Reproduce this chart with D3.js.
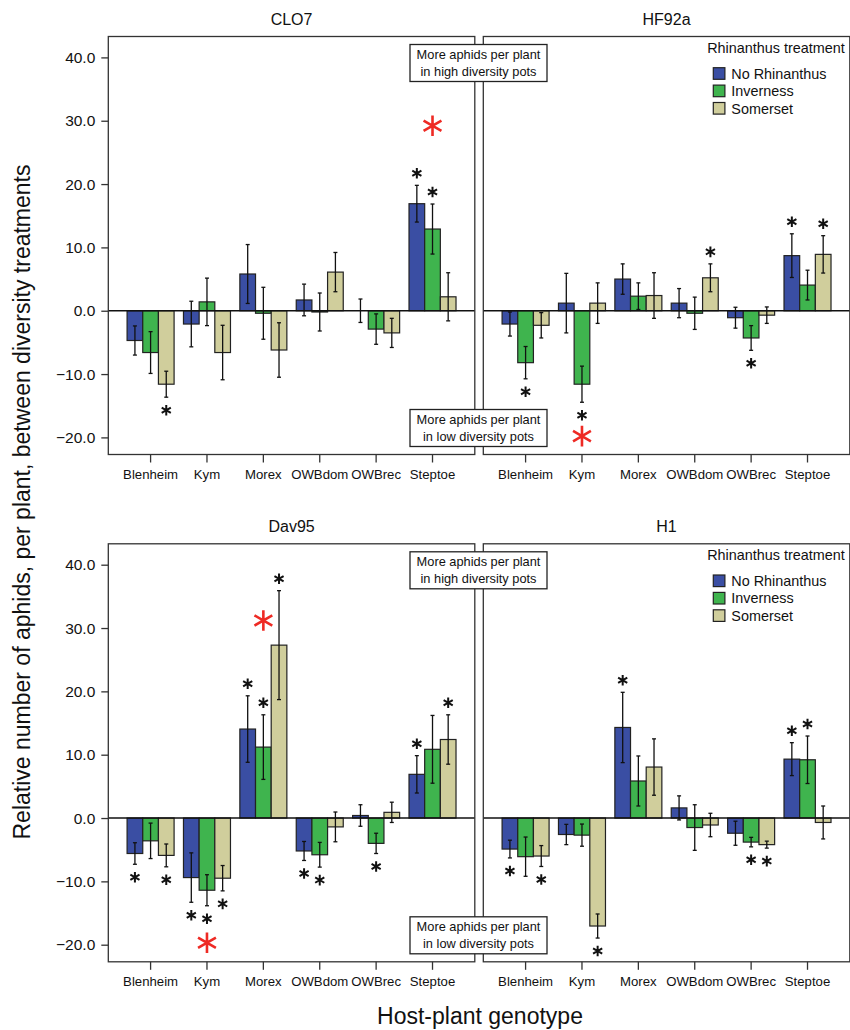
<!DOCTYPE html>
<html>
<head>
  <meta charset="utf-8">
  <title>Relative aphid numbers by host-plant genotype</title>
  <script src="https://d3js.org/d3.v7.min.js"></script>
  <style>
    body { margin: 0; background: #fff; }
    text { font-family: "Liberation Sans", Arial, Helvetica, sans-serif; fill: #111; }
  </style>
</head>
<body>
  <div id="chart"></div>
  <script>
// Host-plant genotypes (x categories) and Rhinanthus treatments (series)
const categories = ["Blenheim", "Kym", "Morex", "OWBdom", "OWBrec", "Steptoe"];
const series = ["No Rhinanthus", "Inverness", "Somerset"];
const seriesColors = ["#3a4ea3", "#3fb44e", "#d0ce9c"];
const yTicks = [-20, -10, 0, 10, 20, 30, 40];

// means: one row per series (No Rhinanthus, Inverness, Somerset)
const clo7Mean = [
  [-4.7, -2.1, 5.8, 1.7, 0.0, 16.9],
  [-6.6, 1.4, -0.4, -0.2, -2.9, 12.9],
  [-11.6, -6.6, -6.2, 6.1, -3.5, 2.2]
];
const clo7Err = [
  [2.3, 3.6, 4.65, 2.5, 1.85, 2.9],
  [3.3, 3.75, 4.1, 3.0, 2.4, 3.95],
  [2.05, 4.3, 4.3, 3.1, 2.3, 3.8]
];
const clo7Stars = [[0, 2], [5, 0], [5, 1]];

const hf92aMean = [
  [-2.1, 1.2, 5.0, 1.2, -1.1, 8.7],
  [-8.2, -11.6, 2.3, -0.4, -4.3, 4.05],
  [-2.3, 1.2, 2.4, 5.2, -0.7, 8.9]
];
const hf92aErr = [
  [1.9, 4.7, 2.4, 2.3, 1.65, 3.45],
  [2.55, 2.85, 2.1, 2.55, 1.95, 2.35],
  [2.0, 3.2, 3.6, 2.2, 1.3, 2.95]
];
const hf92aStars = [[0, 1], [1, 1], [3, 2], [4, 1], [5, 0], [5, 2]];

const dav95Mean = [
  [-5.6, -9.4, 14.05, -5.2, 0.4, 6.9],
  [-3.6, -11.4, 11.2, -5.8, -4.0, 10.85],
  [-5.9, -9.5, 27.3, -1.4, 0.9, 12.4]
];
const dav95Err = [
  [1.7, 3.9, 5.25, 1.5, 1.7, 2.95],
  [2.8, 2.45, 5.1, 1.95, 1.6, 5.35],
  [1.8, 2.0, 8.6, 2.35, 1.6, 3.9]
];
const dav95Stars = [[0, 0], [0, 2], [1, 0], [1, 1], [1, 2], [2, 0], [2, 1], [2, 2], [3, 0], [3, 1], [4, 1], [5, 0], [5, 2]];

const h1Mean = [
  [-4.9, -2.6, 14.3, 1.6, -2.4, 9.3],
  [-6.1, -2.7, 5.85, -1.5, -3.8, 9.2],
  [-6.0, -17.05, 8.05, -1.1, -4.2, -0.7]
];
const h1Err = [
  [1.4, 1.6, 5.55, 1.9, 1.9, 2.6],
  [3.1, 1.75, 3.95, 3.6, 0.75, 3.75],
  [1.65, 1.9, 4.45, 1.85, 0.55, 2.6]
];
const h1Stars = [[0, 0], [0, 2], [1, 2], [2, 0], [4, 1], [4, 2], [5, 0], [5, 1]];

// big red asterisks: [category, y value]
const clo7Red = [["Steptoe", 29.2]];
const hf92aRed = [["Kym", -19.8]];
const dav95Red = [["Morex", 31.2], ["Kym", -19.7]];
const h1Red = [];

const panels = [
  { name: "CLO7", mean: clo7Mean, err: clo7Err, stars: clo7Stars, red: clo7Red, col: 0, row: 0 },
  { name: "HF92a", mean: hf92aMean, err: hf92aErr, stars: hf92aStars, red: hf92aRed, col: 1, row: 0 },
  { name: "Dav95", mean: dav95Mean, err: dav95Err, stars: dav95Stars, red: dav95Red, col: 0, row: 1 },
  { name: "H1", mean: h1Mean, err: h1Err, stars: h1Stars, red: h1Red, col: 1, row: 1 }
];

// layout
const colX = [108.3, 483.3];
const rowY = [36.5, 543.8];
const panelW = 366.5;
const panelH = 418;

const svg = d3.select("#chart")
  .append("svg")
  .attr("width", 850)
  .attr("height", 1030);

const x = d3.scaleBand()
  .domain(categories)
  .range([0, panelW])
  .paddingInner(0)
  .paddingOuter(0.25);

const xSub = d3.scaleBand()
  .domain(d3.range(series.length))
  .range([-23.5, 23.5]);

const y = d3.scaleLinear()
  .domain([-22.7, 43.3])
  .range([panelH, 0]);

const starPath = d3.symbol(d3.symbolAsterisk, 78)();
const redStarPath = d3.symbol(d3.symbolAsterisk, 300)();

panels.forEach(p => {
  const g = svg.append("g")
    .attr("transform", `translate(${colX[p.col]},${rowY[p.row]})`);

  // flatten to bar records
  const bars = [];
  p.mean.forEach((vals, s) => {
    vals.forEach((v, c) => {
      bars.push({ cat: categories[c], s: s, value: v, err: p.err[s][c] });
    });
  });

  g.selectAll(".bar")
    .data(bars)
    .enter()
    .append("rect")
    .attr("class", "bar")
    .attr("x", d => x(d.cat) + x.bandwidth() / 2 + xSub(d.s))
    .attr("y", d => y(Math.max(0, d.value)))
    .attr("width", xSub.bandwidth())
    .attr("height", d => Math.abs(y(d.value) - y(0)))
    .attr("fill", d => seriesColors[d.s])
    .attr("stroke", "#222")
    .attr("stroke-width", 1.2);

  // error bars
  const eb = g.selectAll(".err")
    .data(bars)
    .enter()
    .append("g")
    .attr("class", "err")
    .attr("transform", d => `translate(${x(d.cat) + x.bandwidth() / 2 + xSub(d.s) + xSub.bandwidth() / 2},0)`);
  eb.append("line")
    .attr("y1", d => y(d.value - d.err))
    .attr("y2", d => y(d.value + d.err))
    .attr("stroke", "#111")
    .attr("stroke-width", 1.3);
  eb.append("line")
    .attr("x1", -2).attr("x2", 2)
    .attr("y1", d => y(d.value + d.err)).attr("y2", d => y(d.value + d.err))
    .attr("stroke", "#111").attr("stroke-width", 1.3);
  eb.append("line")
    .attr("x1", -2).attr("x2", 2)
    .attr("y1", d => y(d.value - d.err)).attr("y2", d => y(d.value - d.err))
    .attr("stroke", "#111").attr("stroke-width", 1.3);

  // zero line
  g.append("line")
    .attr("x1", 0).attr("x2", panelW)
    .attr("y1", y(0)).attr("y2", y(0))
    .attr("stroke", "#111")
    .attr("stroke-width", 1.6);

  // significance asterisks
  g.selectAll(".star")
    .data(p.stars)
    .enter()
    .append("path")
    .attr("class", "star")
    .attr("d", starPath)
    .attr("transform", d => {
      const v = p.mean[d[1]][d[0]];
      const e = p.err[d[1]][d[0]];
      const cx = x(categories[d[0]]) + x.bandwidth() / 2 + xSub(d[1]) + xSub.bandwidth() / 2;
      const cy = v >= 0 ? y(v + e) - 12 : y(v - e) + 13;
      return `translate(${cx},${cy})`;
    })
    .attr("fill", "none")
    .attr("stroke", "#111")
    .attr("stroke-width", 2);

  g.selectAll(".redstar")
    .data(p.red)
    .enter()
    .append("path")
    .attr("class", "redstar")
    .attr("d", redStarPath)
    .attr("transform", d => `translate(${x(d[0]) + x.bandwidth() / 2},${y(d[1])})`)
    .attr("fill", "none")
    .attr("stroke", "#ee2a24")
    .attr("stroke-width", 2.6);

  // panel frame
  g.append("rect")
    .attr("width", panelW)
    .attr("height", panelH)
    .attr("fill", "none")
    .attr("stroke", "#333")
    .attr("stroke-width", 1.3);

  // x axis below the frame
  const xAxis = g.append("g")
    .attr("transform", `translate(0,${panelH})`)
    .call(d3.axisBottom(x).tickSize(8).tickPadding(7));
  xAxis.select(".domain").remove();
  xAxis.selectAll("line").attr("stroke", "#333").attr("stroke-width", 1.3);
  xAxis.selectAll("text").style("font-size", "13.2px").style("font-family", "Liberation Sans, Arial, sans-serif").attr("fill", "#111");

  // y axis only on the left column
  if (p.col === 0) {
    const yAxis = g.append("g")
      .call(d3.axisLeft(y).tickValues(yTicks).tickSize(7).tickPadding(6).tickFormat(d3.format(".1f")));
    yAxis.select(".domain").remove();
    yAxis.selectAll("line").attr("stroke", "#333").attr("stroke-width", 1.3);
    yAxis.selectAll("text").style("font-size", "15.5px").style("font-family", "Liberation Sans, Arial, sans-serif").attr("fill", "#111");
  }

  // panel title
  g.append("text")
    .attr("x", panelW / 2)
    .attr("y", -12)
    .attr("text-anchor", "middle")
    .style("font-size", "16px")
    .text(p.name);

  // legend in the right column
  if (p.col === 1) {
    g.append("text")
      .attr("x", panelW - 5)
      .attr("y", 16)
      .attr("text-anchor", "end")
      .style("font-size", "14.4px")
      .text("Rhinanthus treatment");
    const leg = g.selectAll(".leg")
      .data(series)
      .enter()
      .append("g")
      .attr("class", "leg")
      .attr("transform", (d, i) => `translate(230,${37 + i * 17.4})`);
    leg.append("rect")
      .attr("x", 0).attr("y", -5.8)
      .attr("width", 11.6).attr("height", 11.6)
      .attr("fill", (d, i) => seriesColors[i])
      .attr("stroke", "#222")
      .attr("stroke-width", 1.2);
    leg.append("text")
      .attr("x", 18)
      .attr("y", 5.2)
      .style("font-size", "14.4px")
      .text(d => d);
  }
});

// annotation boxes straddling the two columns
const notes = [
  { row: 0, top: true, lines: ["More aphids per plant", "in high diversity pots"] },
  { row: 0, top: false, lines: ["More aphids per plant", "in low diversity pots"] },
  { row: 1, top: true, lines: ["More aphids per plant", "in high diversity pots"] },
  { row: 1, top: false, lines: ["More aphids per plant", "in low diversity pots"] }
];
const noteCx = 478.5;
notes.forEach(n => {
  const by = n.top ? rowY[n.row] + 8 : rowY[n.row] + panelH - 45;
  const ng = svg.append("g").attr("transform", `translate(${noteCx},${by})`);
  ng.append("rect")
    .attr("x", -68.5).attr("y", 0)
    .attr("width", 137).attr("height", 37)
    .attr("fill", "#fff")
    .attr("stroke", "#222")
    .attr("stroke-width", 1.3);
  n.lines.forEach((t, i) => {
    ng.append("text")
      .attr("x", 0)
      .attr("y", 14.5 + i * 16.5)
      .attr("text-anchor", "middle")
      .style("font-size", "12.8px")
      .text(t);
  });
});

// axis titles
svg.append("text")
  .attr("transform", "translate(30,502) rotate(-90)")
  .attr("text-anchor", "middle")
  .style("font-size", "23px")
  .text("Relative number of aphids, per plant, between diversity treatments");

svg.append("text")
  .attr("x", 480)
  .attr("y", 1023.5)
  .attr("text-anchor", "middle")
  .style("font-size", "23px")
  .text("Host-plant genotype");
  </script>
</body>
</html>
